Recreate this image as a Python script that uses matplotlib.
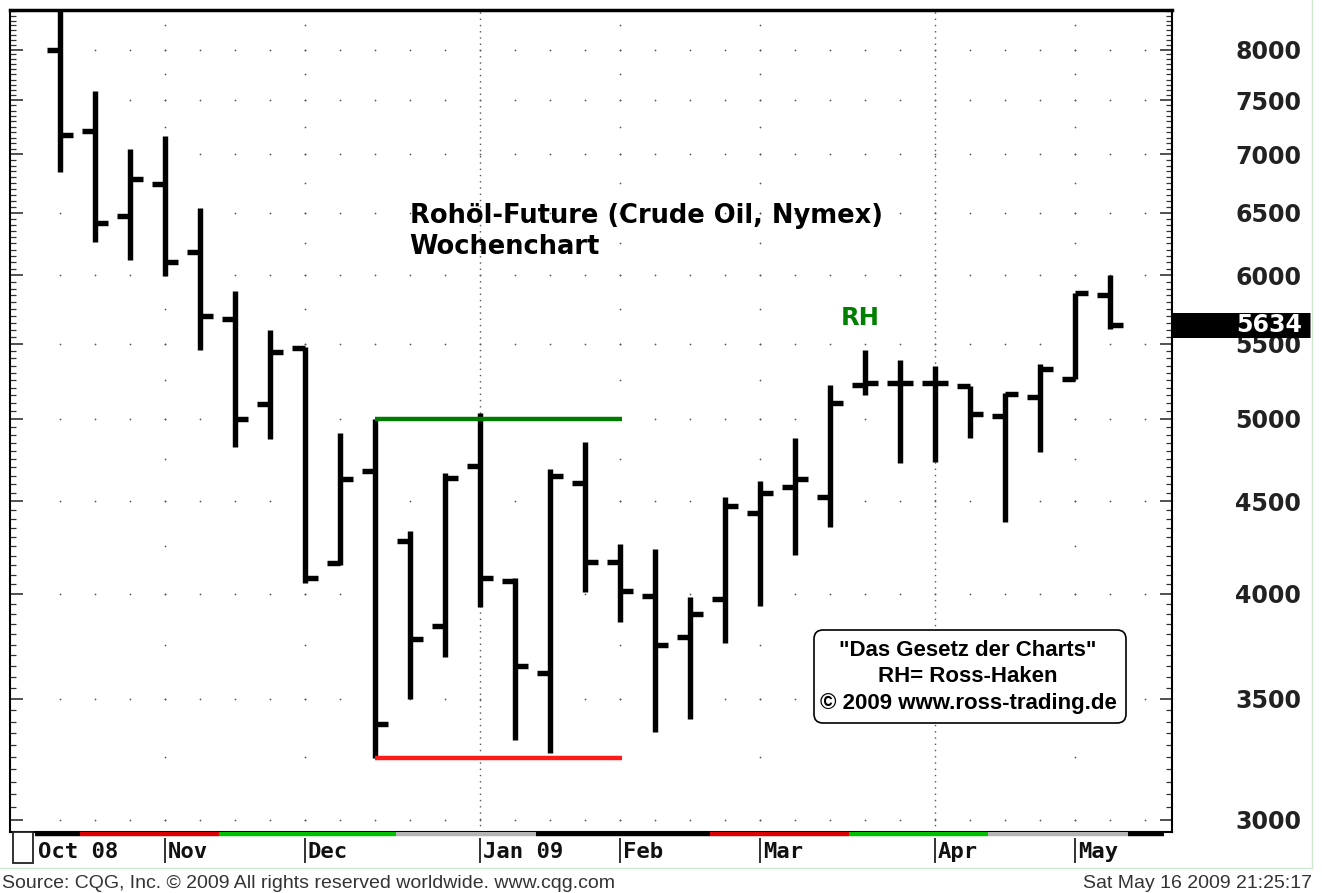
import numpy as np
import matplotlib
matplotlib.use("Agg")
import matplotlib.pyplot as plt
import matplotlib.transforms as mtransforms
from matplotlib.patches import FancyBboxPatch, Rectangle
from matplotlib.ticker import FixedLocator, NullFormatter, FuncFormatter

# weekly OHLC, crude oil future (Oct 2008 - May 2009)
opens = [8000, 7210, 6470, 6740, 6180, 5680, 5095, 5470, 4160, 4680, 4280, 3840, 4710, 4065, 3615, 4605,
         4165, 3990, 3785, 3975, 4435, 4585, 4525, 5220, 5235, 5235, 5210, 5020, 5140, 5260, 5850]
highs = [8500, 7590, 7050, 7170, 6540, 5880, 5600, 5475, 4910, 5000, 4335, 4665, 5035, 4080, 4690, 4855,
         4265, 4235, 3985, 4525, 4620, 4880, 5220, 5455, 5390, 5345, 5215, 5165, 5360, 5865, 6005]
lows = [6845, 6260, 6120, 5995, 5455, 4825, 4870, 4055, 4150, 3245, 3500, 3690, 3935, 3320, 3265, 4010,
        3860, 3355, 3410, 3760, 3940, 4205, 4355, 5155, 4725, 4730, 4880, 4385, 4795, 5260, 5605]
closes = [7175, 6415, 6785, 6105, 5700, 5000, 5445, 4080, 4630, 3390, 3775, 4635, 4080, 3650, 4650, 4165,
          4015, 3750, 3900, 4475, 4550, 4630, 5100, 5235, 5235, 5230, 5030, 5160, 5325, 5865, 5634]

month_labels = ['Oct 08', 'Nov', 'Dec', 'Jan 09', 'Feb', 'Mar', 'Apr', 'May']
month_starts = [-0.71, 3, 7, 12, 16, 20, 25, 29]
quarter_starts = [12, 25]

band_edges = [-0.71, 0.57, 4.54, 9.6, 13.6, 18.57, 22.54, 26.5, 30.5, 31.54]
band_colors = ['black', '#dd0000', '#00c000', '#b4b4b4', 'black', '#dd0000', '#00c000', '#b4b4b4', 'black']

price_levels = [3000, 3500, 4000, 4500, 5000, 5500, 6000, 6500, 7000, 7500, 8000]
half_levels = [3250, 3750, 4250, 4750, 5250, 5750, 6250, 6750, 7250, 7750, 8250]

range_top = 5000      # green line
range_bottom = 3245   # red line
range_span = (9, 16.06)

rh_pos = (22.86, 5684)   # "Ross-Haken" label

W, H = 1322, 893


def fx(x):
    return x / W


def fy(y):
    return 1 - y / H


fig = plt.figure(figsize=(W / 100, H / 100), dpi=100)
ax = fig.add_axes([fx(10), fy(832), (1172 - 10) / W, (832 - 10) / H])

idx = np.arange(len(opens))
ax.set_yscale('log')
ax.set_xlim(-1.43, 31.77)
ax.set_ylim(2954, 8413)

# dotted grid
gx, gy = np.meshgrid(np.arange(0, 32), price_levels)
ax.scatter(gx.ravel(), gy.ravel(), s=1.6, color='#555555', zorder=1, linewidths=0)
mcols = [m for m in month_starts[1:] if m not in quarter_starts]
hx, hy = np.meshgrid(mcols, half_levels + price_levels)
ax.scatter(hx.ravel(), hy.ravel(), s=1.6, color='#555555', zorder=1, linewidths=0)
for q in quarter_starts:
    ax.axvline(q, color='#555555', lw=1.0, ls=(0, (1, 3.5)), zorder=1)

# OHLC bars
ax.vlines(idx, lows, highs, color='black', lw=3.9, zorder=3, capstyle='butt')
ax.hlines(opens, idx - 0.38, idx, color='black', lw=3.9, zorder=3)
ax.hlines(closes, idx, idx + 0.38, color='black', lw=3.9, zorder=3)

# trading range
ax.hlines(range_top, *range_span, color='#007a00', lw=3.2, zorder=4)
ax.hlines(range_bottom, *range_span, color='#ff1a1a', lw=3.2, zorder=4)

# axes styling
for s in ax.spines.values():
    s.set_linewidth(1.5)
ax.spines['top'].set_linewidth(2.5)
ax.set_xticks([])
ax.yaxis.set_major_locator(FixedLocator(price_levels))
ax.yaxis.set_minor_locator(FixedLocator(np.arange(2950, 8450, 50)))
ax.yaxis.set_minor_formatter(NullFormatter())
ax.yaxis.set_major_formatter(FuncFormatter(lambda v, p: '%d' % v))
ax.tick_params(axis='y', which='both', direction='in', left=True, right=True,
               labelleft=False, labelright=True, color='#333333')
ax.tick_params(axis='y', which='major', length=9, width=1.2, pad=93, labelsize=17)
ax.tick_params(axis='y', which='minor', length=4, width=0.9)
for lbl in ax.get_yticklabels():
    lbl.set_horizontalalignment('right')
    lbl.set_fontweight('bold')
    lbl.set_color('#222222')

# last price marker
trans = mtransforms.blended_transform_factory(ax.transAxes, ax.transData)
ax.plot([1.0, (1310 - 10) / (1172 - 10)], [closes[-1], closes[-1]], transform=trans,
        color='black', lw=18, solid_capstyle='butt', clip_on=False, zorder=5)
ax.text((1302 - 10) / (1172 - 10), closes[-1], str(closes[-1]), transform=trans,
        color='white', fontsize=17, fontweight='bold', ha='right', va='center', zorder=6)

# texts
ax.text(0.344, 0.730, 'Rohöl-Future (Crude Oil, Nymex)\nWochenchart', transform=ax.transAxes,
        family='DejaVu Sans', fontsize=18.5, fontweight='bold', ha='left', va='center',
        linespacing=1.25)
ax.text(rh_pos[0], rh_pos[1], 'RH', color='#008000', family='DejaVu Sans', fontsize=17.5,
        fontweight='bold', ha='center', va='center')

box = FancyBboxPatch((814, H - 723), 312, 93, boxstyle='round,pad=0,rounding_size=9',
                     transform=mtransforms.IdentityTransform(), facecolor='white',
                     edgecolor='black', lw=1.2, zorder=10)
fig.patches.append(box)
for yy, t in [(650, '"Das Gesetz der Charts"'), (677, 'RH= Ross-Haken'),
              (704, '© 2009 www.ross-trading.de')]:
    fig.text(fx(968), fy(yy), t, family='Liberation Sans',
             fontsize=16, fontweight='bold', ha='center', va='center', zorder=11)

# month strip
axm = fig.add_axes([fx(10), fy(866), (1172 - 10) / W, 34 / H])
axm.set_xlim(ax.get_xlim())
axm.set_ylim(0, 1)
axm.axis('off')
for c, x0, x1 in zip(band_colors, band_edges[:-1], band_edges[1:]):
    axm.hlines(0.93, x0, x1, color=c, lw=3.2)
for lab, m in zip(month_labels, month_starts):
    if m > 0:
        axm.vlines(m, 0.08, 0.82, color='#222222', lw=1.3)
    axm.text(m + 0.08, 0.4, lab, family='DejaVu Sans Mono', fontsize=16, fontweight='bold',
             ha='left', va='center', color='#111111')
fig.patches.append(Rectangle((13, H - 863), 20, 31, transform=mtransforms.IdentityTransform(),
                             facecolor='white', edgecolor='#222222', lw=1.3))

# frame lines of the page
fig.add_artist(plt.Line2D([fx(1312), fx(1312)], [fy(868), 1], color='#cfe6cf', lw=1))
fig.add_artist(plt.Line2D([0, fx(1312)], [fy(868), fy(868)], color='#cfe6cf', lw=1))

fig.text(fx(2), fy(884), 'Source: CQG, Inc. © 2009 All rights reserved worldwide. www.cqg.com',
         family='Liberation Sans', fontsize=14, color='#333333', ha='left', va='center')
fig.text(fx(1312), fy(884), 'Sat May 16 2009 21:25:17',
         family='Liberation Sans', fontsize=14, color='#333333', ha='right', va='center')

fig.savefig('out.png', dpi=100)
